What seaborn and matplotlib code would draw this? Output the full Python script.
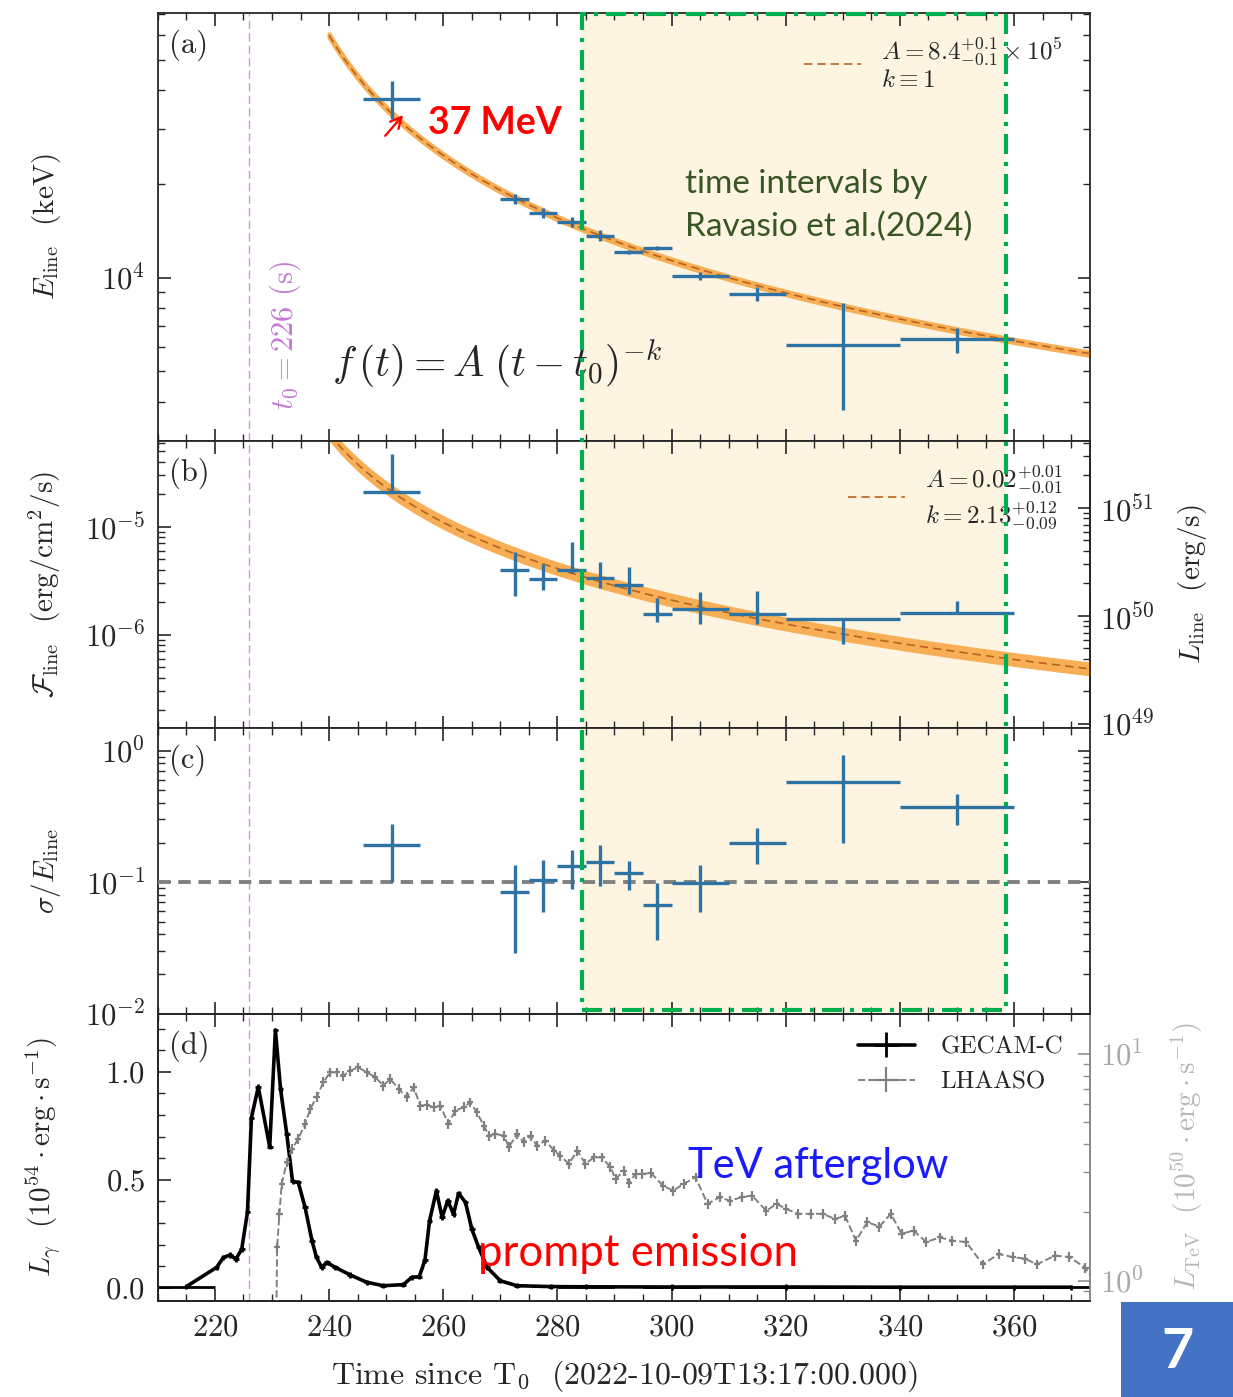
import numpy as np
import matplotlib
matplotlib.use("Agg")
import matplotlib.pyplot as plt
import matplotlib.transforms as mtransforms
from matplotlib.patches import Rectangle
from matplotlib.ticker import MultipleLocator, NullFormatter
import seaborn as sns

# ---------------- data ----------------
t0 = 226.0

# time bins of the line fits (s)
bin_lo = np.array([246, 270, 275, 280, 285, 290, 295, 300, 310, 320, 340])
bin_hi = np.array([256, 275, 280, 285, 290, 295, 300, 310, 320, 340, 360])

# (a) line energy (keV)
e_line = np.array([37500, 17900, 16150, 15130, 13640, 12110, 12480, 10150, 8890, 6100, 6370])
e_hi = np.array([42760, 18580, 16710, 15690, 14180, 12290, 12670, 10470, 9340, 8320, 6910])
e_lo = np.array([32360, 17220, 15590, 14570, 13100, 11930, 12290, 9830, 8440, 3750, 5750])

# (b) line flux (erg/cm2/s)
f_line = np.array([2.07e-5, 4.0e-6, 3.3e-6, 4.0e-6, 3.37e-6, 2.9e-6, 1.56e-6, 1.74e-6, 1.56e-6, 1.41e-6, 1.6e-6])
f_hi = np.array([4.74e-5, 5.87e-6, 4.54e-6, 7.26e-6, 4.74e-6, 4.26e-6, 2.2e-6, 2.5e-6, 2.55e-6, 1.41e-6, 2.07e-6])
f_lo = np.array([2.07e-5, 2.3e-6, 2.61e-6, 3.7e-6, 2.72e-6, 2.4e-6, 1.32e-6, 1.26e-6, 1.26e-6, 8.26e-7, 1.55e-6])

# (c) sigma / E_line
s_line = np.array([0.191, 0.084, 0.1035, 0.132, 0.142, 0.117, 0.0667, 0.098, 0.199, 0.58, 0.374])
s_hi = np.array([0.277, 0.135, 0.147, 0.175, 0.191, 0.145, 0.099, 0.135, 0.258, 0.93, 0.47])
s_lo = np.array([0.1, 0.0287, 0.059, 0.0885, 0.093, 0.087, 0.036, 0.059, 0.137, 0.20, 0.272])

# fit parameters
A_a, A_a_lo, A_a_hi, k_a = 8.4e5, 8.3e5, 8.5e5, 1.0
A_b, k_b = 0.02, 2.13
band_b = 1.16          # half width of the (b) band, as a factor
K_lum = 6.7e55         # 4 pi d_L^2, flux -> luminosity

# (d) GECAM-C light curve (1e54 erg/s)
gecam_t = np.array([215, 220.3, 221.5, 222.6, 223.7, 224.7, 225.7, 226.4, 227.6, 229.6,
                    230.6, 231.5, 232.6, 233.6, 234.6, 235.8, 237.0, 237.8, 238.7, 239.6,
                    241.1, 243.7, 246.6, 249.5, 253.0, 254.5, 255.8, 256.8, 257.6, 258.8,
                    259.8, 260.8, 261.8, 262.7, 263.9, 265.0, 266.2, 267.7, 270.0, 272.9,
                    278.8, 285, 300, 320, 340, 360, 370])
gecam_v = np.array([0.005, 0.094, 0.14, 0.151, 0.133, 0.179, 0.349, 0.788, 0.93, 0.653,
                    1.193, 0.92, 0.71, 0.492, 0.488, 0.372, 0.218, 0.14, 0.094, 0.117,
                    0.094, 0.059, 0.025, 0.009, 0.014, 0.048, 0.051, 0.128, 0.31, 0.449,
                    0.326, 0.403, 0.341, 0.437, 0.395, 0.272, 0.187, 0.094, 0.032, 0.009,
                    0.005, 0.004, 0.003, 0.003, 0.002, 0.002, 0.002])
gecam_xerr = np.array([5] + [0.5] * 40 + [5, 5, 10, 10, 10, 5])

# (d) LHAASO light curve (1e50 erg/s)
lhaaso_t = np.array([230.7, 230.9, 231.3, 231.7, 232.6, 233.5, 234.6, 235.8, 236.7, 237.8,
                     239.0, 240.2, 241.4, 242.5, 243.7, 245.1, 246.6, 248.1, 249.5, 250.7,
                     252.2, 253.6, 254.8, 256.0, 257.1, 258.3, 259.5, 260.9, 262.1, 263.6,
                     264.7, 265.9, 267.1, 268.0, 269.1, 270.6, 271.5, 272.9, 274.1, 275.3,
                     276.4, 277.9, 279.4, 280.5, 282.0, 283.5, 284.9, 286.4, 287.8, 289.3,
                     290.2, 291.6, 292.5, 293.7, 294.9, 296.4, 298.5, 300.3, 302.1, 304.2,
                     306.3, 308.4, 310.2, 312.3, 314.1, 316.6, 318.4, 320.1, 322.2, 324.4,
                     326.5, 328.6, 330.4, 332.3, 334.3, 336.4, 338.4, 340.3, 342.4, 344.6,
                     347.0, 349.2, 351.6, 354.5, 357.3, 359.8, 361.9, 364.0, 367.2, 369.7,
                     372.5, 374.0])
lhaaso_v = np.array([0.5, 1.4, 1.97, 2.67, 3.32, 3.8, 4.21, 4.9, 5.7, 6.42,
                     7.48, 8.27, 8.27, 8.0, 8.41, 8.7, 8.27, 7.87, 7.23, 7.73,
                     6.99, 6.42, 7.1, 5.9, 5.95, 5.8, 5.9, 4.9, 5.61, 5.8,
                     6.1, 5.51, 4.82, 4.35, 4.43, 4.35, 3.87, 4.43, 4.07, 4.35,
                     3.93, 4.14, 3.74, 3.55, 3.27, 3.74, 3.27, 3.49, 3.49, 3.16,
                     2.8, 3.05, 2.7, 2.95, 2.95, 2.98, 2.62, 2.49, 2.67, 2.85,
                     2.18, 2.33, 2.25, 2.33, 2.37, 2.03, 2.18, 2.07, 1.97, 1.97,
                     1.97, 1.87, 1.93, 1.5, 1.81, 1.73, 1.97, 1.61, 1.66, 1.48,
                     1.55, 1.5, 1.48, 1.18, 1.31, 1.27, 1.25, 1.18, 1.29, 1.27,
                     1.14, 1.0])

# Ravasio et al. window
win_lo, win_hi = 284.3, 358.6

# ---------------- style ----------------
sns.set_theme(style="ticks")
plt.rcParams.update({
    "font.family": "serif",
    "font.serif": ["cmr10"],
    "mathtext.fontset": "cm",
    "axes.formatter.use_mathtext": True,
    "axes.unicode_minus": False,
    "font.size": 20,
    "axes.labelsize": 21,
    "xtick.labelsize": 22,
    "ytick.labelsize": 22,
    "legend.fontsize": 18,
    "axes.linewidth": 1.3,
})
sans = ["Lato", "DejaVu Sans"]

blue = "#2f72a4"
band_col = "#f7ae55"
dash_col = "#b8641e"
green = "#00b050"
beige = "#fdf5e2"
magenta = "#da8fe3"

fig = plt.figure(figsize=(12.33, 13.97), dpi=100)
gs = fig.add_gridspec(4, 1, height_ratios=[428, 287, 286, 287], hspace=0,
                      left=0.128, right=0.884, top=0.991, bottom=0.069)
ax_a = fig.add_subplot(gs[0])
ax_b = fig.add_subplot(gs[1], sharex=ax_a)
ax_c = fig.add_subplot(gs[2], sharex=ax_a)
ax_d = fig.add_subplot(gs[3], sharex=ax_a)
axes = [ax_a, ax_b, ax_c, ax_d]

t_mid = (bin_lo + bin_hi) / 2
t_half = (bin_hi - bin_lo) / 2
t_model = np.linspace(240, 374, 300)


def plot_bins(ax, val, hi, lo):
    ax.errorbar(t_mid, val, xerr=t_half, yerr=[val - lo, hi - val], fmt="none",
                ecolor=blue, elinewidth=2.4, capsize=0, zorder=5)


for ax in axes[:3]:
    ax.axvspan(win_lo, win_hi, color=beige, lw=0, zorder=0)
for ax in axes:
    ax.axvline(t0, color=magenta, lw=1.0, ls=(0, (6, 3)), zorder=1)

# (a)
ax_a.set_yscale("log")
fit_a = A_a * (t_model - t0) ** (-k_a)
ax_a.fill_between(t_model, A_a_lo * (t_model - t0) ** (-k_a), A_a_hi * (t_model - t0) ** (-k_a),
                  color=band_col, lw=3, zorder=2)
sns.lineplot(x=t_model, y=fit_a, ax=ax_a, color=dash_col, lw=1.2, dashes=False,
             label=r"$A=8.4^{+0.1}_{-0.1}\times10^{5}$" + "\n" + r"$k\equiv1$", zorder=3)
ax_a.lines[-1].set_linestyle((0, (5, 3)))
plot_bins(ax_a, e_line, e_hi, e_lo)
ax_a.set_ylim(3000, 71000)
ax_a.set_ylabel(r"$E_{\rm line}$  (keV)")
ax_a.legend(loc="upper right", bbox_to_anchor=(0.995, 1.0), frameon=False,
            handlelength=2.3, handletextpad=0.8)
ax_a.text(232.3, 0.245, r"$t_0 = 226$ (s)", transform=ax_a.get_xaxis_transform(),
          rotation=90, ha="center", va="center", color="#c878d8", fontsize=22)
ax_a.text(240.5, 0.18, r"$f\,(t) = A\;(t - t_0)^{-k}$", transform=ax_a.get_xaxis_transform(),
          ha="left", va="center", fontsize=30, zorder=6)
ax_a.text(257.4, 0.741, "37 MeV", transform=ax_a.get_xaxis_transform(), ha="left", va="center",
          color="red", fontsize=27, fontweight="bold", family=sans, zorder=6)
ax_a.annotate("", xy=(253.3, 33800), xytext=(249.5, 28100),
              arrowprops=dict(arrowstyle="->", color="red", lw=1.6), zorder=6)
ax_a.text(302.3, 0.549, "time intervals by\nRavasio et al.(2024)", transform=ax_a.get_xaxis_transform(),
          ha="left", va="center", color="#375623", fontsize=24, family=sans, linespacing=1.5, zorder=6)

# (b)
ax_b.set_yscale("log")
fit_b = A_b * (t_model - t0) ** (-k_b)
ax_b.fill_between(t_model, fit_b / band_b, fit_b * band_b, color=band_col, lw=0, zorder=2)
sns.lineplot(x=t_model, y=fit_b, ax=ax_b, color=dash_col, lw=1.2, dashes=False,
             label=r"$A=0.02^{+0.01}_{-0.01}$" + "\n" + r"$k=2.13^{+0.12}_{-0.09}$", zorder=3)
ax_b.lines[-1].set_linestyle((0, (5, 3)))
plot_bins(ax_b, f_line, f_hi, f_lo)
ax_b.set_ylim(1.38e-7, 6.25e-5)
ax_b.set_ylabel(r"$\mathcal{F}_{\rm line}$  (erg/cm$^2$/s)")
ax_b.legend(loc="upper right", bbox_to_anchor=(0.995, 1.0), frameon=False,
            handlelength=2.3, handletextpad=0.8)
sec_b = ax_b.secondary_yaxis("right", functions=(lambda f: f * K_lum, lambda L: L / K_lum))
sec_b.set_ylabel(r"$L_{\rm line}$  (erg/s)", labelpad=16)
sec_b.tick_params(which="both", direction="in", labelsize=22, pad=7)
sec_b.tick_params(which="major", length=9, width=1.2)
sec_b.tick_params(which="minor", length=5, width=1.0)
sec_b.yaxis.set_minor_formatter(NullFormatter())

# (c)
ax_c.set_yscale("log")
ax_c.axhline(0.1, color="gray", lw=2.8, ls=(0, (3.2, 2)), zorder=3)
plot_bins(ax_c, s_line, s_hi, s_lo)
ax_c.set_ylim(0.00999, 1.5)
ax_c.set_ylabel(r"$\sigma/E_{\rm line}$")

# (d)
ax_d.errorbar(gecam_t, gecam_v, xerr=gecam_xerr, yerr=0.012, fmt="-", color="black",
              lw=2.6, elinewidth=2.0, capsize=0, label="GECAM-C", zorder=4)
ax_d.set_ylim(-0.06, 1.27)
ax_d.yaxis.set_major_locator(MultipleLocator(0.5))
ax_d.yaxis.set_minor_locator(MultipleLocator(0.1))
ax_d.set_ylabel(r"$L_\gamma\ \ (10^{54}\cdot{\rm erg}\cdot{\rm s}^{-1})$")
ax_d2 = ax_d.twinx()
ax_d2.set_yscale("log")
ax_d2.errorbar(lhaaso_t, lhaaso_v, xerr=0.55, yerr=lhaaso_v * 0.05, fmt="--", color="gray",
               lw=1.4, elinewidth=1.6, capsize=0, label="LHAASO", zorder=3)
ax_d2.set_ylim(0.817, 15)
ax_d2.set_ylabel(r"$L_{\rm TeV}\ \ (10^{50}\cdot{\rm erg}\cdot{\rm s}^{-1})$", color="#b8b8b8", labelpad=18)
ax_d2.tick_params(which="both", direction="in", colors="#909090", labelcolor="#a8a8a8",
                  labelsize=22, pad=7)
ax_d2.tick_params(which="major", length=9, width=1.2)
ax_d2.tick_params(which="minor", length=5, width=1.0)
ax_d2.yaxis.set_minor_formatter(NullFormatter())
ax_d2.spines["right"].set_color("#808080")
ax_d.spines["right"].set_visible(False)
h1, l1 = ax_d.get_legend_handles_labels()
h2, l2 = ax_d2.get_legend_handles_labels()
ax_d2.legend(h1 + h2, l1 + l2, loc="upper right", bbox_to_anchor=(0.995, 1.0), frameon=False,
             handlelength=2.3, handletextpad=1.0)
ax_d.text(266.1, 0.164, "prompt emission", transform=ax_d.get_xaxis_transform(), ha="left",
          va="center", color="red", fontsize=31.5, family=sans, zorder=6)
ax_d2.text(302.8, 0.47, "TeV afterglow", transform=ax_d2.get_xaxis_transform(), ha="left",
           va="center", color="#1a1aff", fontsize=30, family=sans, zorder=6)

# shared axis cosmetics
ax_d.set_xlim(210, 373.3)
ax_d.xaxis.set_major_locator(MultipleLocator(20))
ax_d.xaxis.set_minor_locator(MultipleLocator(5))
ax_d.set_xlabel(r"Time since T$_0$  (2022-10-09T13:17:00.000)", fontsize=23, labelpad=12)
for ax, lab in zip(axes, ["(a)", "(b)", "(c)", "(d)"]):
    ax.tick_params(which="both", direction="in", top=True, right=ax in (ax_a, ax_c))
    ax.tick_params(which="major", length=9, width=1.2)
    ax.tick_params(which="minor", length=5, width=1.0)
    ax.tick_params(axis="x", pad=10)
    ax.tick_params(axis="y", pad=9)
    ax.yaxis.labelpad = 16
    if ax is not ax_d:
        ax.tick_params(labelbottom=False)
    if ax.get_yscale() == "log":
        ax.yaxis.set_minor_formatter(NullFormatter())
    ax.text(0.012, 0.96 if ax is ax_a else 0.94, lab, transform=ax.transAxes,
            ha="left", va="top", fontsize=22)
fig.align_ylabels(axes)

# green dash-dot window spanning panels (a)-(c)
trans = mtransforms.blended_transform_factory(ax_a.transData, fig.transFigure)
fig.add_artist(Rectangle((win_lo, 0.277), win_hi - win_lo, 0.990 - 0.277, transform=trans,
                         fill=False, edgecolor=green, lw=3, ls=(0, (4.8, 1.9, 1, 1.9)), zorder=10))

# slide number badge
fig.add_artist(Rectangle((1121 / 1233, 0), 112 / 1233, 95 / 1397, transform=fig.transFigure,
                         facecolor="#4472c4", edgecolor="none"))
fig.text(1177 / 1233, 45 / 1397, "7", ha="center", va="center", color="white",
         fontsize=40, fontweight="bold", family=sans)

fig.savefig("out.png", dpi=100)
